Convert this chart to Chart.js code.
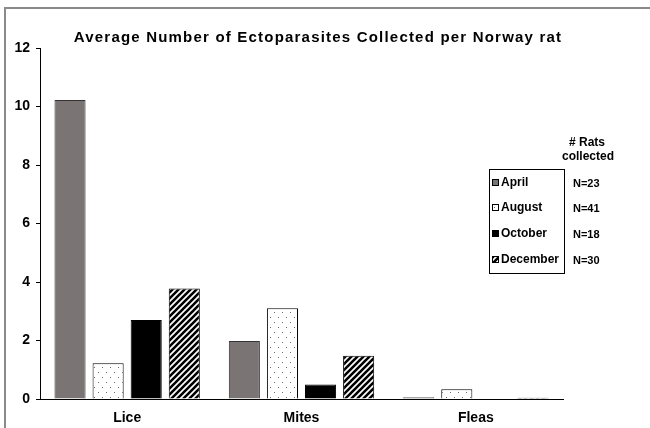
<!DOCTYPE html>
<html>
<head>
<meta charset="utf-8">
<script src="https://cdn.jsdelivr.net/npm/chart.js@4.4.1/dist/chart.umd.min.js"></script>
<style>
  html, body { margin: 0; padding: 0; background: #fff; }
  #wrap { width: 650px; height: 428px; }
</style>
</head>
<body>
<div id="wrap"><canvas id="c" width="650" height="428"></canvas></div>
<script>
// Parasite groups along the x axis
const categories = ['Lice', 'Mites', 'Fleas'];
// Mean ectoparasites per rat, one array per collection month
const april    = [10.22, 1.98, 0.06];
const august   = [1.22, 3.10, 0.33];
const october  = [2.70, 0.50, 0.00];
const december = [3.78, 1.48, 0.04];
const months = ['April', 'August', 'October', 'December'];
// Number of rats collected in each month
const ratCounts = ['N=23', 'N=41', 'N=18', 'N=30'];
const yTicks = [0, 2, 4, 6, 8, 10, 12];

const FONT = '"Liberation Sans", Arial, sans-serif';

// Fill patterns
function dotPattern() {
  const t = document.createElement('canvas');
  t.width = 8; t.height = 10;
  const g = t.getContext('2d');
  g.fillStyle = '#fff'; g.fillRect(0, 0, 8, 10);
  g.fillStyle = '#6a6a6a';
  g.fillRect(2, 2, 1, 1);
  g.fillRect(6, 7, 1, 1);
  return g.createPattern(t, 'repeat');
}
function stripePattern() {
  const s = 6;
  const t = document.createElement('canvas');
  t.width = s; t.height = s;
  const g = t.getContext('2d');
  g.fillStyle = '#fff'; g.fillRect(0, 0, s, s);
  g.strokeStyle = '#000'; g.lineWidth = 2.6;
  g.beginPath();
  g.moveTo(-1, s + 1); g.lineTo(s + 1, -1);
  g.moveTo(-1, 1); g.lineTo(1, -1);
  g.moveTo(s - 1, s + 1); g.lineTo(s + 1, s - 1);
  g.stroke();
  return g.createPattern(t, 'repeat');
}

const fills = ['#7a7574', dotPattern(), '#000000', stripePattern()];
const borders = ['#333333', '#000000', '#000000', '#000000'];
const series = [april, august, october, december];

// Title, legend box, rat counts and outer frame
const decorations = {
  id: 'decorations',
  afterDraw(chart) {
    const ctx = chart.ctx;
    ctx.save();
    // frame
    ctx.strokeStyle = '#8a8a8a';
    ctx.lineWidth = 2;
    ctx.beginPath();
    ctx.moveTo(650, 8); ctx.lineTo(5, 8); ctx.lineTo(5, 428);
    ctx.stroke();

    // title
    ctx.fillStyle = '#000';
    ctx.font = 'bold 15px ' + FONT;
    ctx.letterSpacing = '1.2px';
    ctx.textAlign = 'center';
    ctx.textBaseline = 'middle';
    ctx.fillText('Average Number of Ectoparasites Collected per Norway rat', 318, 38);
    ctx.letterSpacing = '0px';

    // legend box
    ctx.strokeStyle = '#000';
    ctx.lineWidth = 1;
    ctx.strokeRect(489.5, 169.5, 75, 104);
    const ys = [183, 208, 234, 260];
    ctx.font = 'bold 12px ' + FONT;
    ctx.textAlign = 'left';
    months.forEach((m, i) => {
      ctx.fillStyle = fills[i];
      ctx.fillRect(492, ys[i] - 4, 7, 7);
      ctx.strokeStyle = '#000';
      ctx.strokeRect(492.5, ys[i] - 3.5, 6, 6);
      ctx.fillStyle = '#000';
      ctx.fillText(m, 501, ys[i]);
    });

    // rat counts
    ctx.font = 'bold 11px ' + FONT;
    ratCounts.forEach((n, i) => ctx.fillText(n, 573, ys[i] + 1));
    ctx.font = 'bold 12px ' + FONT;
    ctx.textAlign = 'center';
    ctx.fillText('# Rats', 587, 143);
    ctx.fillText('collected', 588, 157);
    ctx.restore();
  }
};

new Chart(document.getElementById('c'), {
  type: 'bar',
  data: {
    labels: categories,
    datasets: series.map((d, i) => ({
      label: months[i],
      data: d,
      backgroundColor: fills[i],
      borderColor: borders[i],
      borderWidth: 1,
      categoryPercentage: 0.874,
      barPercentage: 0.816
    }))
  },
  options: {
    responsive: false,
    animation: false,
    devicePixelRatio: 1,
    layout: { padding: { left: 0, top: 48, right: 87, bottom: 0 } },
    plugins: { legend: { display: false }, title: { display: false }, tooltip: { enabled: false } },
    scales: {
      x: {
        grid: { drawOnChartArea: false, drawTicks: false },
        border: { display: true, color: '#000', width: 1 },
        ticks: { color: '#000', padding: 11, font: { family: FONT, size: 14, weight: 'bold' } },
        afterFit(s) { s.height = 29; }
      },
      y: {
        min: 0, max: 12,
        afterBuildTicks(s) { s.ticks = yTicks.map(v => ({ value: v })); },
        grid: { drawOnChartArea: false, drawTicks: true, tickLength: 4, color: '#000' },
        border: { display: true, color: '#000', width: 1 },
        ticks: { color: '#000', padding: 6, font: { family: FONT, size: 14, weight: 'bold' } },
        afterFit(s) { s.width = 40; }
      }
    }
  },
  plugins: [decorations]
});
</script>
</body>
</html>
